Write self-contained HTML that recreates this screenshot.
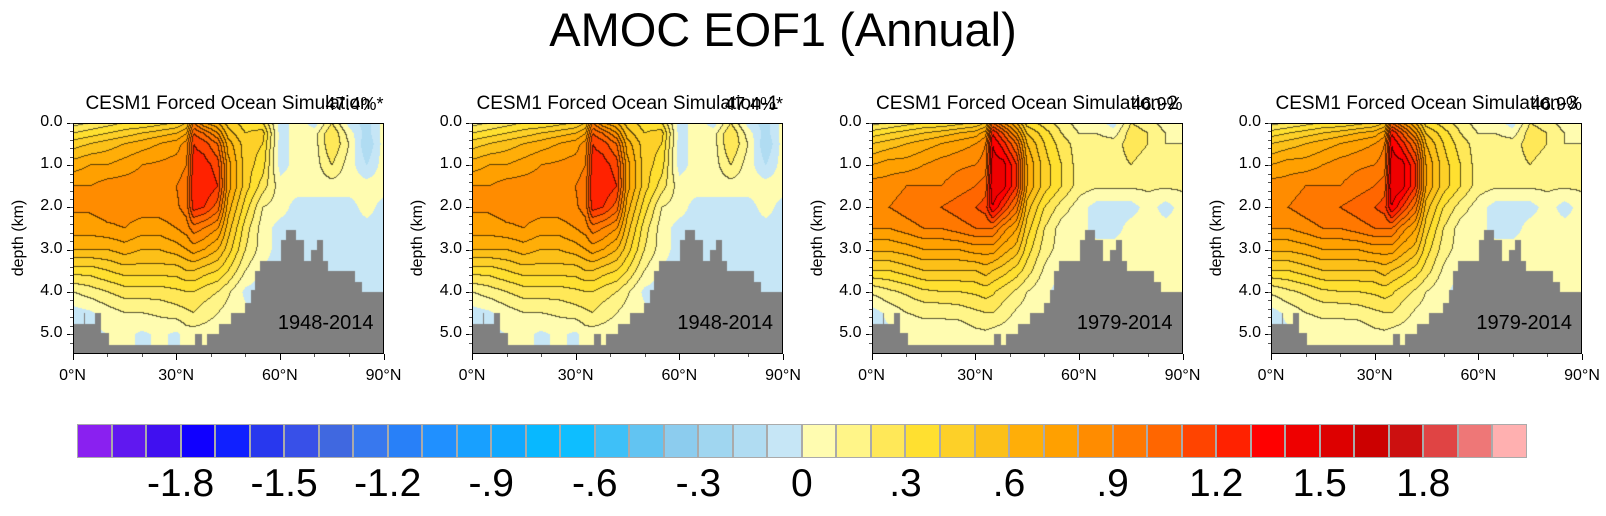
<!DOCTYPE html>
<html><head><meta charset="utf-8"><style>
body{margin:0;background:#fff;width:1606px;height:516px;overflow:hidden;font-family:"Liberation Sans",sans-serif;position:relative}
.t{position:absolute;white-space:nowrap;color:#000}
canvas{position:absolute}
</style></head><body>
<div class="t" style="left:0;width:1566px;text-align:center;top:2px;font-size:47px">AMOC EOF1 (Annual)</div>
<div id="root"></div>
<script>
const lats=[0,5,10,15,20,25,30,33,35,38,42,45,50,55,60,65,70,75,80,85,90];
const depths=[0,0.25,0.5,1,1.5,2,2.5,3,3.5,4,4.5,5,5.5];
const fieldA=[
[.15,.2,.25,.3,.3,.35,.4,.5,.9,.7,.6,.45,.35,.3,-.05,.05,-.05,.2,-.05,-.15,.05],
[.3,.35,.4,.45,.5,.55,.6,.7,1.1,1.0,.8,.55,.4,.45,-.05,.05,.05,.3,.05,-.15,.05],
[.45,.5,.55,.6,.65,.7,.75,.85,1.2,1.15,1.0,.65,.45,.4,-.05,.05,.05,.3,.1,-.2,.05],
[.65,.7,.7,.75,.8,.82,.85,.9,1.25,1.25,1.15,.75,.45,.35,-.05,.05,.05,.2,.05,-.1,.05],
[.8,.8,.85,.85,.85,.85,.9,.95,1.3,1.3,1.2,.75,.45,.25,.05,.05,.05,.05,.05,.05,.05],
[.82,.82,.85,.85,.85,.85,.88,.95,1.25,1.2,1.05,.65,.35,.1,.05,-.05,-.05,-.05,-.05,.05,-.05],
[.75,.75,.78,.8,.75,.75,.8,.85,.95,.9,.8,.55,.25,.05,-.05,-.05,-.05,-.05,-.05,-.05,-.05],
[.6,.6,.6,.65,.6,.6,.65,.7,.75,.7,.6,.45,.2,.05,-.05,-.05,-.05,-.05,-.05,-.05,-.05],
[.35,.35,.4,.45,.45,.45,.45,.5,.5,.45,.4,.3,.1,-.02,-.05,-.05,-.05,-.05,-.05,-.05,-.05],
[.1,.15,.2,.25,.25,.25,.28,.3,.3,.25,.2,.12,-.03,-.05,-.05,-.05,-.05,-.05,-.05,-.05,-.05],
[-.05,-.02,.05,.1,.1,.12,.15,.18,.2,.15,.1,.05,.03,-.05,.05,.05,.05,.05,.05,.05,.05],
[-.05,-.02,0,.03,-.02,.02,-.02,.05,.05,.05,.04,.03,.02,.02,.05,.05,.05,.05,.05,.05,.05],
[-.05,-.02,0,.03,-.02,.02,-.02,.05,.05,.05,.04,.03,.02,.02,.05,.05,.05,.05,.05,.05,.05]];
const fieldB=[
[.15,.2,.25,.3,.3,.35,.4,.5,1.0,.8,.6,.35,.25,.15,.05,.05,-.05,.2,.15,.05,.05],
[.35,.4,.45,.5,.55,.6,.65,.75,1.3,1.1,.8,.5,.35,.2,.1,.1,.05,.25,.2,.1,.05],
[.5,.55,.6,.65,.7,.75,.8,.9,1.4,1.25,1.0,.6,.4,.25,.15,.15,.15,.25,.2,.1,.1],
[.7,.75,.75,.8,.85,.88,.9,.95,1.45,1.45,1.2,.7,.45,.3,.15,.15,.15,.2,.15,.15,.15],
[.85,.85,.9,.9,.9,.95,1.0,1.05,1.5,1.45,1.2,.7,.45,.3,.15,.12,.12,.12,.12,.12,.12],
[.9,.9,.95,1.0,1.0,1.05,1.1,1.15,1.4,1.2,.95,.55,.3,.15,.05,-.05,-.05,-.05,.05,-.05,.05],
[.8,.8,.85,.9,.9,.95,1.0,1.0,1.0,.85,.7,.45,.2,.05,.05,-.05,-.05,.05,.05,.05,.05],
[.62,.62,.65,.7,.7,.7,.75,.75,.75,.65,.55,.35,.15,.05,.05,.05,.05,.05,.05,.05,.05],
[.4,.4,.45,.5,.5,.5,.5,.55,.5,.45,.35,.25,.08,-.02,.05,.05,.05,.05,.05,.05,.05],
[.12,.18,.22,.28,.3,.3,.32,.35,.32,.25,.18,.1,.02,-.05,.05,.05,.05,.05,.05,.05,.05],
[-.05,.03,.1,.12,.12,.14,.18,.2,.2,.15,.08,.04,.02,.05,.05,.05,.05,.05,.05,.05,.05],
[-.05,-.02,.03,.05,.05,.02,.07,.08,.06,.05,.03,.02,.02,.02,.05,.05,.05,.05,.05,.05,.05],
[-.05,-.02,.03,.05,.05,.02,.07,.08,.06,.05,.03,.02,.02,.02,.05,.05,.05,.05,.05,.05,.05]];
const bathyEdges=[0,3.1,3.6,6.3,8.2,10.3,35.2,37.2,38.8,42.2,45.6,49.7,51.5,52.8,54.2,60.2,61.7,64.4,66.8,69,70.7,72.3,73.9,81.6,83.7,90];
const bathyDepths=[4.76,4.5,4.76,4.5,4.98,5.26,5.0,5.26,5.0,4.75,4.5,4.26,3.95,3.5,3.27,2.77,2.53,2.77,3.27,3.0,2.77,3.27,3.5,3.76,4.0];
const cbColors=["#8A20F0","#6018F0","#4010F0","#1000FF","#1020FF","#2838EE","#3850E8","#4068E0","#3878EE","#2880F8","#2090FF","#18A0FF","#10A8FF","#08B8FF","#0EBEFF","#3EC0F8","#62C4F2","#8CCCEE","#A0D6F0","#B0DCF2","#C6E6F6","#FFFCB0","#FFF588","#FFE858","#FFE030","#FDD028","#FCC018","#FFAE08","#FFA000","#FF8C00","#FF7800","#FF6600","#FF4400","#FF2200","#FF0000","#EE0000","#DD0000","#CC0000","#CC1010","#E04444","#EE7777","#FFB0B0"];
const cbLabels=["-1.8","-1.5","-1.2","-.9","-.6","-.3","0",".3",".6",".9","1.2","1.5","1.8"];
const panelTitles=["CESM1 Forced Ocean Simulation","CESM1 Forced Ocean Simulation-1","CESM1 Forced Ocean Simulation-2","CESM1 Forced Ocean Simulation-3"];
const panelPct=["47.4%*","47.4%*","46.9%","46.9%"];
const panelYears=["1948-2014","1948-2014","1979-2014","1979-2014"];
const yTicks=["0.0","1.0","2.0","3.0","4.0","5.0"];
const xTicks=["0°N","30°N","60°N","90°N"];

const root=document.getElementById('root');
const PW=311,PH=231,PT=123,DMAX=5.47;
const lefts=[72.5,472,871.5,1271];
function idx(arr,v){let i=0;while(i<arr.length-2&&v>arr[i+1])i++;return i;}
function val(F,la,d){
  const i=idx(lats,la),j=idx(depths,d);
  const tx=(la-lats[i])/(lats[i+1]-lats[i]),ty=(d-depths[j])/(depths[j+1]-depths[j]);
  return F[j][i]*(1-tx)*(1-ty)+F[j][i+1]*tx*(1-ty)+F[j+1][i]*(1-tx)*ty+F[j+1][i+1]*tx*ty;
}
function bathy(la){for(let k=0;k<bathyDepths.length;k++){if(la<bathyEdges[k+1])return bathyDepths[k];}return bathyDepths[bathyDepths.length-1];}
function hex(c){return [parseInt(c.substr(1,2),16),parseInt(c.substr(3,2),16),parseInt(c.substr(5,2),16)];}
const rgb=cbColors.map(hex);
function mk(tag,name,css,txt){const e=document.createElement(tag);e.className='t';e.style.cssText=css;if(txt!==undefined)e.textContent=txt;root.appendChild(e);return e;}
lefts.forEach((L,p)=>{
  const F=p<2?fieldA:fieldB;
  const cv=document.createElement('canvas');
  
  
  cv.width=PW;cv.height=PH;cv.style.left=L+'px';cv.style.top=PT+'px';
  root.appendChild(cv);
  const ctx=cv.getContext('2d');const im=ctx.createImageData(PW,PH);
  const lev=new Int16Array(PW*PH);
  for(let y=0;y<PH;y++)for(let x=0;x<PW;x++){
    const la=(x+0.5)/PW*90,d=(y+0.5)/PH*DMAX;
    if(d>bathy(la)){lev[y*PW+x]=-99;continue;}
    let v=val(F,la,d);let k=Math.floor(v*10+1e-6)+21;k=Math.max(0,Math.min(41,k));lev[y*PW+x]=k;
  }
  for(let y=0;y<PH;y++)for(let x=0;x<PW;x++){
    const o=(y*PW+x)*4,k=lev[y*PW+x];let c;
    if(k===-99)c=[128,128,128];else{
      c=rgb[k].slice();
      const r=x<PW-1?lev[y*PW+x+1]:k,b=y<PH-1?lev[(y+1)*PW+x]:k;
      if((r!==k&&r!==-99)||(b!==k&&b!==-99)){if(k>=21&&(r>=21||b>=21)&&Math.max(k,r,b)>21)c=c.map(q=>q*0.35);}
    }
    im.data[o]=c[0];im.data[o+1]=c[1];im.data[o+2]=c[2];im.data[o+3]=255;
  }
  ctx.putImageData(im,0,0);
  const fr=mk('div','',`left:${L}px;top:${PT}px;width:${PW}px;height:${PH}px;border:1px solid #000;box-sizing:border-box`);
  
  const ti=mk('div','',`left:${L-40}px;width:${PW+80}px;text-align:center;top:93px;font-size:19px`,panelTitles[p]);
  
  const pc=mk('div','',`left:${L+PW-80}px;width:80px;text-align:right;top:94px;font-size:18px`,panelPct[p]);
  
  const yr=mk('div','',`left:${L+PW-160}px;width:150px;text-align:right;top:312px;font-size:20px`,panelYears[p]);
  
  const yl=mk('div','',`left:${L-104}px;top:${PT+PH/2-10}px;font-size:16px;transform:rotate(-90deg);transform-origin:center;width:100px;text-align:center`,'depth (km)');
  
  yTicks.forEach((t,i)=>{
    const yy=PT+parseFloat(t)/DMAX*PH;
    const e=mk('div','',`left:${L-52}px;width:42px;text-align:right;top:${yy-10}px;font-size:16px`,t);
    
    const tk=mk('div','',`left:${L-6}px;top:${yy}px;width:6px;height:1px;background:#000`);
    
  });
  for(let m=0;m<=5.4;m+=0.2){const tk=mk('div','',`left:${L-3}px;top:${PT+m/DMAX*PH}px;width:3px;height:1px;background:#555`);}
  xTicks.forEach((t,i)=>{
    const xx=L+i*30/90*PW;
    const e=mk('div','',`left:${xx-30}px;width:60px;text-align:center;top:367px;font-size:16px`,t);
    
    const tk=mk('div','',`left:${xx}px;top:${PT+PH}px;width:1px;height:6px;background:#000`);
    
  });
  for(let m=10;m<90;m+=10){if(m%30===0)continue;const tk=mk('div','',`left:${L+m/90*PW}px;top:${PT+PH}px;width:1px;height:3px;background:#555`);}
});
const CB0=77,CBW=34.52,CBT=424,CBH=34;
cbColors.forEach((c,i)=>{
  const e=mk('div','',`left:${CB0+i*CBW}px;top:${CBT}px;width:${CBW}px;height:${CBH}px;background:${c};box-sizing:border-box;border:1px solid #aaa`);
  
});
cbLabels.forEach((t,i)=>{
  const xx=CB0+(3+i*3)*CBW;
  const e=mk('div','',`left:${xx-60}px;width:120px;text-align:center;top:462px;font-size:39px`,t);
  
});
</script>
</body></html>
